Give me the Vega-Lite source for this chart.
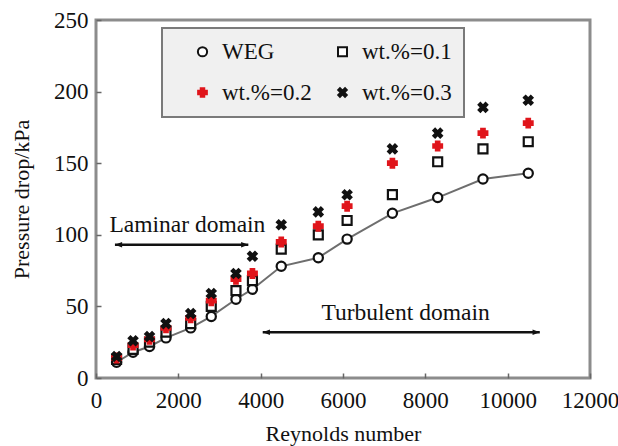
{
  "$schema": "https://vega.github.io/schema/vega-lite/v6.json",
  "width": 494,
  "height": 358,
  "autosize": {"type": "none"},
  "padding": {"left": 96, "top": 20, "right": 28, "bottom": 68},
  "background": "white",
  "datasets": {
    "points": [
      {"Re": 500, "dp": 11, "series": "WEG"},
      {"Re": 900, "dp": 18, "series": "WEG"},
      {"Re": 1300, "dp": 22, "series": "WEG"},
      {"Re": 1700, "dp": 28, "series": "WEG"},
      {"Re": 2300, "dp": 35, "series": "WEG"},
      {"Re": 2800, "dp": 43, "series": "WEG"},
      {"Re": 3400, "dp": 55, "series": "WEG"},
      {"Re": 3800, "dp": 62, "series": "WEG"},
      {"Re": 4500, "dp": 78, "series": "WEG"},
      {"Re": 5400, "dp": 84, "series": "WEG"},
      {"Re": 6100, "dp": 97, "series": "WEG"},
      {"Re": 7200, "dp": 115, "series": "WEG"},
      {"Re": 8300, "dp": 126, "series": "WEG"},
      {"Re": 9400, "dp": 139, "series": "WEG"},
      {"Re": 10500, "dp": 143, "series": "WEG"},
      {"Re": 500, "dp": 13, "series": "wt.%=0.1"},
      {"Re": 900, "dp": 20, "series": "wt.%=0.1"},
      {"Re": 1300, "dp": 25, "series": "wt.%=0.1"},
      {"Re": 1700, "dp": 32, "series": "wt.%=0.1"},
      {"Re": 2300, "dp": 38, "series": "wt.%=0.1"},
      {"Re": 2800, "dp": 50, "series": "wt.%=0.1"},
      {"Re": 3400, "dp": 61, "series": "wt.%=0.1"},
      {"Re": 3800, "dp": 68, "series": "wt.%=0.1"},
      {"Re": 4500, "dp": 90, "series": "wt.%=0.1"},
      {"Re": 5400, "dp": 100, "series": "wt.%=0.1"},
      {"Re": 6100, "dp": 110, "series": "wt.%=0.1"},
      {"Re": 7200, "dp": 128, "series": "wt.%=0.1"},
      {"Re": 8300, "dp": 151, "series": "wt.%=0.1"},
      {"Re": 9400, "dp": 160, "series": "wt.%=0.1"},
      {"Re": 10500, "dp": 165, "series": "wt.%=0.1"},
      {"Re": 500, "dp": 14, "series": "wt.%=0.2"},
      {"Re": 900, "dp": 23, "series": "wt.%=0.2"},
      {"Re": 1300, "dp": 27, "series": "wt.%=0.2"},
      {"Re": 1700, "dp": 35, "series": "wt.%=0.2"},
      {"Re": 2300, "dp": 42, "series": "wt.%=0.2"},
      {"Re": 2800, "dp": 54, "series": "wt.%=0.2"},
      {"Re": 3400, "dp": 69, "series": "wt.%=0.2"},
      {"Re": 3800, "dp": 73, "series": "wt.%=0.2"},
      {"Re": 4500, "dp": 95, "series": "wt.%=0.2"},
      {"Re": 5400, "dp": 106, "series": "wt.%=0.2"},
      {"Re": 6100, "dp": 120, "series": "wt.%=0.2"},
      {"Re": 7200, "dp": 150, "series": "wt.%=0.2"},
      {"Re": 8300, "dp": 162, "series": "wt.%=0.2"},
      {"Re": 9400, "dp": 171, "series": "wt.%=0.2"},
      {"Re": 10500, "dp": 178, "series": "wt.%=0.2"},
      {"Re": 500, "dp": 15, "series": "wt.%=0.3"},
      {"Re": 900, "dp": 26, "series": "wt.%=0.3"},
      {"Re": 1300, "dp": 29, "series": "wt.%=0.3"},
      {"Re": 1700, "dp": 38, "series": "wt.%=0.3"},
      {"Re": 2300, "dp": 45, "series": "wt.%=0.3"},
      {"Re": 2800, "dp": 59, "series": "wt.%=0.3"},
      {"Re": 3400, "dp": 73, "series": "wt.%=0.3"},
      {"Re": 3800, "dp": 85, "series": "wt.%=0.3"},
      {"Re": 4500, "dp": 107, "series": "wt.%=0.3"},
      {"Re": 5400, "dp": 116, "series": "wt.%=0.3"},
      {"Re": 6100, "dp": 128, "series": "wt.%=0.3"},
      {"Re": 7200, "dp": 160, "series": "wt.%=0.3"},
      {"Re": 8300, "dp": 171, "series": "wt.%=0.3"},
      {"Re": 9400, "dp": 189, "series": "wt.%=0.3"},
      {"Re": 10500, "dp": 194, "series": "wt.%=0.3"}
    ],
    "arrows": [
      {"from": 460, "to": 3700, "level": 93},
      {"from": 4050, "to": 10780, "level": 32}
    ],
    "heads": [
      {"Re": 460, "level": 93, "end": "left"},
      {"Re": 3700, "level": 93, "end": "right"},
      {"Re": 4050, "level": 32, "end": "left"},
      {"Re": 10780, "level": 32, "end": "right"}
    ],
    "notes": [
      {"Re": 2220, "level": 102, "label": "Laminar domain"},
      {"Re": 7520, "level": 40.5, "label": "Turbulent domain"}
    ]
  },
  "encoding": {
    "x": {
      "type": "quantitative",
      "scale": {"domain": [0, 12000], "nice": false, "zero": false},
      "axis": {
        "title": "Reynolds number",
        "values": [0, 2000, 4000, 6000, 8000, 10000, 12000],
        "format": "d",
        "labelFont": "Liberation Serif",
        "labelFontSize": 23,
        "labelPadding": 16,
        "titlePadding": 11,
        "labelFlush": false,
        "labelOverlap": false
      }
    },
    "y": {
      "type": "quantitative",
      "scale": {"domain": [0, 250], "nice": false, "zero": false},
      "axis": {
        "title": "Pressure drop/kPa",
        "values": [0, 50, 100, 150, 200, 250],
        "format": "d",
        "labelFont": "Liberation Serif",
        "labelFontSize": 23,
        "labelPadding": 13,
        "titlePadding": 20
      }
    }
  },
  "layer": [
    {
      "data": {"name": "arrows"},
      "mark": {"type": "rule", "color": "#111111", "strokeWidth": 2.6},
      "encoding": {
        "x": {"field": "from"},
        "x2": {"field": "to"},
        "y": {"field": "level"}
      }
    },
    {
      "data": {"name": "heads"},
      "transform": [{"filter": "datum.end === 'left'"}],
      "mark": {"type": "point", "shape": "M 0 0 L 2.4 -0.9 L 2.4 0.9 Z", "size": 36, "filled": true, "color": "#111111", "opacity": 1},
      "encoding": {"x": {"field": "Re"}, "y": {"field": "level"}}
    },
    {
      "data": {"name": "heads"},
      "transform": [{"filter": "datum.end === 'right'"}],
      "mark": {"type": "point", "shape": "M 0 0 L -2.4 -0.9 L -2.4 0.9 Z", "size": 36, "filled": true, "color": "#111111", "opacity": 1},
      "encoding": {"x": {"field": "Re"}, "y": {"field": "level"}}
    },
    {
      "data": {"name": "notes"},
      "mark": {"type": "text", "font": "Liberation Serif", "fontSize": 23.5, "align": "center", "baseline": "alphabetic", "color": "#111111"},
      "encoding": {"x": {"field": "Re"}, "y": {"field": "level"}, "text": {"field": "label"}}
    },
    {
      "data": {"name": "points"},
      "transform": [{"filter": "datum.series === 'WEG'"}],
      "mark": {"type": "line", "color": "#6e6e6e", "strokeWidth": 2},
      "encoding": {"x": {"field": "Re"}, "y": {"field": "dp"}}
    },
    {
      "data": {"name": "points"},
      "mark": {"type": "point", "strokeWidth": 2.2, "opacity": 1, "filled": false},
      "encoding": {
        "x": {"field": "Re"},
        "y": {"field": "dp"},
        "shape": {
          "field": "series",
          "type": "nominal",
          "scale": {
            "domain": ["WEG", "wt.%=0.1", "wt.%=0.2", "wt.%=0.3"],
            "range": ["circle", "square", "cross", "M -1 -0.6 L -0.6 -1 L 0 -0.4 L 0.6 -1 L 1 -0.6 L 0.4 0 L 1 0.6 L 0.6 1 L 0 0.4 L -0.6 1 L -1 0.6 L -0.4 0 Z"]
          },
          "legend": {"title": null, "orient": "none", "legendX": 66, "legendY": 8, "columns": 2, "direction": "horizontal", "labelFont": "Liberation Serif", "labelFontSize": 23}
        },
        "fill": {
          "field": "series",
          "type": "nominal",
          "scale": {
            "domain": ["WEG", "wt.%=0.1", "wt.%=0.2", "wt.%=0.3"],
            "range": ["white", "white", "#e0151b", "#111111"]
          },
          "legend": {"title": null, "orient": "none", "legendX": 66, "legendY": 8, "columns": 2, "direction": "horizontal", "labelFont": "Liberation Serif", "labelFontSize": 23}
        },
        "stroke": {
          "field": "series",
          "type": "nominal",
          "scale": {
            "domain": ["WEG", "wt.%=0.1", "wt.%=0.2", "wt.%=0.3"],
            "range": ["#111111", "#111111", "#e0151b", "#111111"]
          },
          "legend": {"title": null, "orient": "none", "legendX": 66, "legendY": 8, "columns": 2, "direction": "horizontal", "labelFont": "Liberation Serif", "labelFontSize": 23}
        },
        "size": {
          "field": "series",
          "type": "nominal",
          "scale": {
            "domain": ["WEG", "wt.%=0.1", "wt.%=0.2", "wt.%=0.3"],
            "range": [85, 72, 34, 52]
          },
          "legend": {"title": null, "orient": "none", "legendX": 66, "legendY": 8, "columns": 2, "direction": "horizontal", "labelFont": "Liberation Serif", "labelFontSize": 23}
        }
      }
    }
  ],
  "config": {
    "view": {"stroke": "#8c8c8c", "strokeWidth": 3},
    "axis": {
      "domain": false,
      "grid": false,
      "tickSize": -5,
      "tickColor": "#666666",
      "tickWidth": 1.5,
      "labelFont": "Liberation Serif",
      "labelFontSize": 23,
      "labelColor": "#111111",
      "titleFont": "Liberation Serif",
      "titleFontSize": 22,
      "titleFontWeight": "normal",
      "titleColor": "#111111"
    },
    "legend": {
      "fillColor": "#f0f0f0",
      "strokeColor": "#7a7a7a",
      "strokeWidth": 2,
      "padding": 12,
      "symbolOffset": 17,
      "labelFont": "Liberation Serif",
      "labelFontSize": 23,
      "labelColor": "#111111",
      "labelOffset": 8,
      "symbolStrokeWidth": 2,
      "rowPadding": 17,
      "columnPadding": 2
    }
  }
}
